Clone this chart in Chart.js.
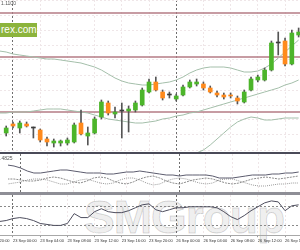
<!DOCTYPE html>
<html>
<head>
<meta charset="utf-8">
<script src="https://cdn.jsdelivr.net/npm/chart.js@4.4.0/dist/chart.umd.min.js"></script>
<style>
html, body { margin: 0; padding: 0; background: #fff; }
#wrap { position: relative; width: 300px; height: 250px; overflow: hidden; font-family: "Liberation Sans", Arial, sans-serif; }
#wrap canvas { position: absolute; left: 0; z-index: 2; }
.sep { position: absolute; left: 0; width: 300px; z-index: 3; }
.txt { position: absolute; z-index: 4; white-space: nowrap; }
#mark { position: absolute; left: 84px; top: 190px; z-index: 1; font: bold 46px "Liberation Sans", Arial, sans-serif; color: rgba(0,0,0,0.07); -webkit-text-stroke: 1px rgba(0,0,0,0.16); letter-spacing: -1px; }
#brand { position: absolute; left: 0; top: 23px; width: 37px; height: 14px; background: #8cb43c; color: #fff; font-size: 10px; line-height: 14px; padding-left: 1px; box-sizing: border-box; z-index: 4; overflow: hidden; }
</style>
</head>
<body>
<div id="wrap">
  <div id="mark">SMGroup</div>
  <canvas id="main" width="300" height="152" style="top:0"></canvas>
  <div class="sep" style="top:152px;height:2px;background:#4a4a58"></div>
  <canvas id="adx" width="300" height="38" style="top:154px"></canvas>
  <div class="sep" style="top:192px;height:3px;background:#8e8e96"></div>
  <canvas id="rsi" width="300" height="55" style="top:195px"></canvas>
  <div id="brand">rex.com</div>
  <div class="txt" style="left:1px;top:0;font-size:5px;color:#555">1.1100</div>
  <div class="txt" style="left:0;top:155px;font-size:5px;color:#555">.4825</div>
</div>
<script>
// hour index 0 = 22 Sep 23:00, 1 = 23 Sep 00:00 ... 43 = 26 Sep 18:00
const tickIdx = [-3, 1, 5, 9, 13, 17, 21, 25, 29, 33, 37, 41];
const tickLabels = ['22 Sep 20:00', '23 Sep 00:00', '23 Sep 04:00', '23 Sep 08:00', '23 Sep 12:00', '23 Sep 16:00',
  '23 Sep 20:00', '26 Sep 00:00', '26 Sep 04:00', '26 Sep 08:00', '26 Sep 12:00', '26 Sep 16:00'];
const dayStarts = [1, 25];

const opens = [1.3487,1.3496,1.3492,1.3496,1.3492,1.3490,1.3481,1.3477,1.3477,1.3477,
  1.3478,1.3497,1.3484,1.3487,1.3503,1.3517,1.3506,1.3509,1.3509,1.3510,
  1.3515,1.3528,1.3538,1.3528,1.3525,1.3521,1.3525,1.3533,1.3536,1.3536,
  1.3532,1.3527,1.3525,1.3525,1.3522,1.3518,1.3530,1.3540,1.3540,1.3550,
  1.3577,1.3579,1.3556,1.3585];
const highs = [1.3494,1.3498,1.3499,1.3498,1.3493,1.3491,1.3483,1.3481,1.3480,1.3482,
  1.3497,1.3510,1.3493,1.3503,1.3520,1.3519,1.3513,1.3517,1.3514,1.3519,
  1.3532,1.3541,1.3543,1.3530,1.3528,1.3526,1.3535,1.3540,1.3541,1.3538,
  1.3534,1.3529,1.3527,1.3527,1.3524,1.3530,1.3543,1.3545,1.3552,1.3579,
  1.3588,1.3582,1.3590,1.3592];
const lows = [1.3484,1.3492,1.3487,1.3493,1.3482,1.3478,1.3474,1.3473,1.3474,1.3475,
  1.3477,1.3485,1.3475,1.3486,1.3501,1.3505,1.3502,1.3482,1.3488,1.3508,
  1.3514,1.3527,1.3529,1.3520,1.3522,1.3519,1.3524,1.3532,1.3534,1.3530,
  1.3527,1.3523,1.3521,1.3522,1.3516,1.3517,1.3529,1.3538,1.3539,1.3549,
  1.3565,1.3554,1.3555,1.3583];
const closes = [1.3492,1.3494,1.3497,1.3494,1.3492,1.3480,1.3478,1.3479,1.3479,1.3480,
  1.3495,1.3486,1.3487,1.3501,1.3518,1.3507,1.3508,1.3509,1.3511,1.3517,
  1.3530,1.3538,1.3530,1.3522,1.3525,1.3524,1.3533,1.3538,1.3538,1.3532,
  1.3528,1.3525,1.3523,1.3524,1.3519,1.3528,1.3541,1.3543,1.3550,1.3577,
  1.3577,1.3556,1.3587,1.3588];

// indicator series start one hour earlier (index -1)
const bbUpper = [1.3569,1.3568,1.3566,1.3565,1.3564,1.3563,1.3562,1.3561,1.3561,1.3560,
  1.3559,1.3558,1.3557,1.3555,1.3553,1.3550,1.3546,1.3542,1.3539,1.3537,
  1.3536,1.3535,1.3535,1.3536,1.3537,1.3538,1.3540,1.3543,1.3547,1.3550,
  1.3552,1.3553,1.3553,1.3553,1.3552,1.3550,1.3548,1.3548,1.3549,1.3552,
  1.3556,1.3562,1.3568,1.3574,1.3580];
const bbMid = [1.3507,1.3507,1.3508,1.3508,1.3508,1.3509,1.3510,1.3511,1.3511,1.3511,
  1.3510,1.3509,1.3508,1.3507,1.3505,1.3503,1.3501,1.3500,1.3499,1.3498,
  1.3497,1.3497,1.3498,1.3499,1.3501,1.3502,1.3504,1.3505,1.3507,1.3508,
  1.3510,1.3512,1.3514,1.3516,1.3518,1.3520,1.3522,1.3524,1.3526,1.3528,
  1.3530,1.3532,1.3535,1.3537,1.3540];
const bbLower = [1.3446,1.3446,1.3448,1.3450,1.3452,1.3454,1.3457,1.3459,1.3460,1.3461,
  1.3460,1.3459,1.3458,1.3459,1.3460,1.3457,1.3456,1.3458,1.3459,1.3460,
  1.3461,1.3460,1.3459,1.3461,1.3462,1.3463,1.3464,1.3465,1.3466,1.3467,
  1.3470,1.3475,1.3481,1.3487,1.3493,1.3498,1.3501,1.3503,1.3502,1.3500,
  1.3500,1.3501,1.3502,1.3502,1.3502];
const levels = [1.3607, 1.3563, 1.3508];

const adx = [27,26,24,21,19,19,20,21,22,22,21,20,19,19,19,18,18,19,20,20,21,20,19,18,17,
  17,16,17,17,17,17,16,14,14,14,15,16,17,17,17,18,18,19,19,20];
const diPlus = [13,13,12,11,11,12,14,15,14,12,10,9,11,14,15,14,11,9,8,10,13,15,16,14,11,
  9,8,10,12,13,14,13,11,9,8,9,11,13,14,15,14,13,14,15,16];
const diMinus = [8,9,10,12,13,13,12,10,8,8,10,12,13,11,9,8,9,12,14,14,12,9,7,8,11,
  13,14,13,11,9,8,9,12,13,13,11,9,7,6,6,7,8,8,9,9];

const rsi = [38.4,40.5,44.7,46.8,44.7,40.5,34.2,32.1,30.0,30.0,
  34.2,55.3,46.8,46.8,59.5,65.8,59.5,57.4,57.4,61.6,
  67.9,74.2,76.3,63.7,59.5,63.7,67.9,67.9,70.0,70.0,
  70.0,70.0,67.9,59.5,48.9,42.6,51.1,61.6,70.0,78.4,
  82.6,80.5,61.6,72.1,74.2];
const rsiLevels = [70, 30];

const X_MIN = -0.91, X_MAX = 43.2;

const bull = '#4cb52a', bear = '#ff8a1c', doji = '#3d3d3d';
const candleColor = i => Math.abs(closes[i] - opens[i]) < 0.00005 ? doji : (closes[i] > opens[i] ? bull : bear);
const series = arr => arr.map((v, i) => ({x: i - 1, y: v}));

function xAxis(showLabels) {
  return {
    type: 'linear', min: X_MIN, max: X_MAX, offset: false,
    afterBuildTicks: s => { s.ticks = tickIdx.map(v => ({value: v})); },
    afterFit: s => { s.paddingLeft = 0; s.paddingRight = 0; },
    grid: {
      offset: false, lineWidth: 1, drawTicks: showLabels, tickLength: 2, tickColor: '#9a9a9a',
      color: c => (c.tick && dayStarts.includes(c.tick.value)) ? '#6e6e6e' : '#efe6e8'
    },
    border: { display: showLabels, color: '#a8a8a8', dash: [2, 2] },
    ticks: {
      display: showLabels, autoSkip: false, maxRotation: 0, minRotation: 0, align: 'start',
      padding: 1, color: '#333', font: {size: 4, family: 'Liberation Sans'},
      callback: (v, i) => tickLabels[i]
    }
  };
}

const common = {
  responsive: false, animation: false, events: [],
  layout: { padding: 0, autoPadding: false },
  plugins: { legend: {display: false}, tooltip: {enabled: false} }
};

new Chart('main', {
  type: 'bar',
  data: {
    datasets: [
      { type: 'bar', order: 1, grouped: false, barThickness: 4, minBarLength: 1,
        data: opens.map((o, i) => ({x: i, y: [o, closes[i]]})),
        backgroundColor: opens.map((o, i) => candleColor(i)) },
      { type: 'bar', order: 2, grouped: false, barThickness: 1,
        data: lows.map((l, i) => ({x: i, y: [l, highs[i]]})),
        backgroundColor: '#555' },
      { type: 'line', order: 3, data: series(bbUpper), borderColor: '#a4bfaa', borderWidth: 1, pointRadius: 0 },
      { type: 'line', order: 3, data: series(bbMid), borderColor: '#a4bfaa', borderWidth: 1, pointRadius: 0 },
      { type: 'line', order: 3, data: series(bbLower), borderColor: '#a4bfaa', borderWidth: 1, pointRadius: 0 },
      ...levels.map(lv => ({ type: 'line', order: 4, data: [{x: X_MIN, y: lv}, {x: X_MAX, y: lv}],
        borderColor: '#b57b84', borderWidth: 1.3, pointRadius: 0 }))
    ]
  },
  options: {
    ...common,
    scales: {
      x: xAxis(false),
      y: {
        type: 'linear', min: 1.3468, max: 1.3620,
        grid: { color: '#efe6e8', drawTicks: false },
        border: { display: false, dash: [2, 2] },
        ticks: { display: false, stepSize: 0.0015, includeBounds: false }
      }
    }
  }
});

new Chart('adx', {
  type: 'line',
  data: {
    datasets: [
      { data: series(adx), borderColor: '#5c5c6e', borderWidth: 1, pointRadius: 0 },
      { data: series(diPlus), borderColor: '#8c8c8c', borderWidth: 1, borderDash: [2, 1], pointRadius: 0 },
      { data: series(diMinus), borderColor: '#9a9a9a', borderWidth: 1, borderDash: [1, 1], pointRadius: 0 }
    ]
  },
  options: {
    ...common,
    scales: {
      x: xAxis(false),
      y: { type: 'linear', min: 0, max: 38, grid: { display: false }, border: { display: false }, ticks: { display: false } }
    }
  }
});

new Chart('rsi', {
  type: 'line',
  data: {
    datasets: [
      { data: series(rsi), borderColor: '#4e4e5e', borderWidth: 1, pointRadius: 0 }
    ]
  },
  options: {
    ...common,
    layout: { padding: {bottom: 6}, autoPadding: false },
    scales: {
      x: xAxis(true),
      y: {
        type: 'linear', min: 9, max: 95.3,
        afterBuildTicks: s => { s.ticks = rsiLevels.map(v => ({value: v})); },
        grid: { color: '#8a8a8a', drawTicks: false },
        border: { display: false, dash: [2, 2] },
        ticks: { display: false }
      }
    }
  }
});
</script>
</body>
</html>
